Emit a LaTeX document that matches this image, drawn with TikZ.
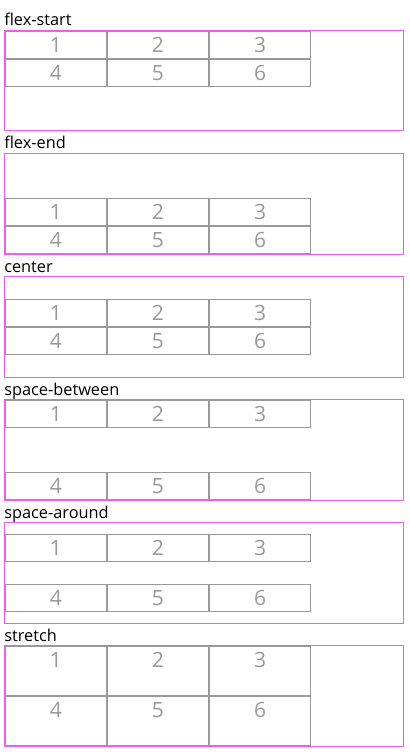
\documentclass[tikz,border=0pt]{standalone}
\usepackage{fontspec}
\setmainfont{Open Sans}
\usepackage{tikz}

\definecolor{framepink}{RGB}{238,92,238}
\definecolor{cellgray}{RGB}{153,153,153}

\tikzset{
  frame/.style={draw=framepink, line width=0.75pt},
  cell/.style={draw=cellgray, line width=0.75pt},
  digit/.style={text=cellgray, anchor=base, inner sep=0pt, font=\fontsize{15.75}{15.75}\selectfont},
  title/.style={anchor=base west, inner sep=0pt, font=\fontsize{12.25}{12.25}\selectfont}
}

\begin{document}
\begin{tikzpicture}[x=0.75pt, y=-0.75pt]
  \useasboundingbox (0,0) rectangle (410,756);
  % one block per align-content value: k / title / row-1 top / row-2 top / row height
  \foreach \k/\name/\ya/\yb/\h in {0/flex-start/0.5/28.5/28, 1/flex-end/44/72/28,
      2/center/22/50/28, 3/space-between/0.5/72/28, 4/space-around/11.5/61/28,
      5/stretch/0.5/50.25/49.75} {
    \pgfmathsetmacro\T{30.5+123*\k}
    % title and container
    \node[title] (title\k) at (4,\T-4.5) {\name};
    \draw[frame] (4.5,\T) rectangle (403.5,\T+100.5);
    % the six items
    \foreach \c in {0,1,2} {
      \pgfmathsetmacro\x{5.5+102*\c}
      \pgfmathtruncatemacro\na{\c+1}
      \pgfmathtruncatemacro\nb{\c+4}
      \draw[cell] (\x,\T+\ya+0.5) rectangle ++(101,\h-1);
      \draw[cell] (\x,\T+\yb+0.5) rectangle ++(101,\h-1);
      \node[digit] (item\k-\na) at (\x+50.5,\T+\ya+21.5) {\na};
      \node[digit] (item\k-\nb) at (\x+50.5,\T+\yb+21.5) {\nb};
    }
  }
\end{tikzpicture}
\end{document}
